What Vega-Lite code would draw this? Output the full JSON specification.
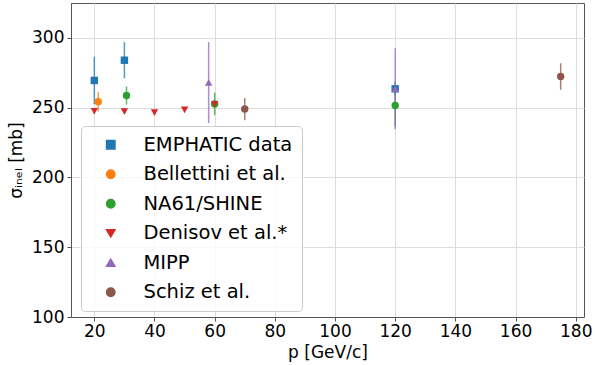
{
  "$schema": "https://vega.github.io/schema/vega-lite/v6.json",
  "width": 513,
  "height": 314,
  "autosize": {"type": "none"},
  "padding": {"left": 71, "top": 3, "right": 11, "bottom": 48},
  "background": "white",
  "config": {
    "font": "DejaVu Sans",
    "view": {"stroke": "#555555", "strokeWidth": 1},
    "axis": {
      "labelFont": "DejaVu Sans",
      "titleFont": "DejaVu Sans",
      "labelFontSize": 17,
      "titleFontSize": 17,
      "titleFontWeight": "normal",
      "labelColor": "#000000",
      "titleColor": "#000000",
      "domainColor": "#555555",
      "tickColor": "#555555",
      "tickSize": 4,
      "gridColor": "#dddddd",
      "gridWidth": 1
    },
    "legend": {
      "orient": "none",
      "legendX": 10,
      "legendY": 123,
      "padding": 9,
      "fillColor": "rgba(255,255,255,0.8)",
      "strokeColor": "#cccccc",
      "cornerRadius": 4,
      "labelFontSize": 19.5,
      "labelFont": "DejaVu Sans",
      "labelColor": "#000000",
      "symbolSize": 70,
      "symbolOffset": 11,
      "labelOffset": 23,
      "rowPadding": 8.5,
      "labelLimit": 300,
      "symbolOpacity": 1
    }
  },
  "data": {
    "values": [
      {"series": "EMPHATIC data", "p": 20, "sigma": 269.5, "err": 17},
      {"series": "EMPHATIC data", "p": 30, "sigma": 284, "err": 13},
      {"series": "EMPHATIC data", "p": 120, "sigma": 263.5, "err": 5},
      {"series": "Bellettini et al.", "p": 21.3, "sigma": 254.3, "err": 7},
      {"series": "NA61/SHINE", "p": 30.7, "sigma": 258.7, "err": 6.5},
      {"series": "NA61/SHINE", "p": 60, "sigma": 252.7, "err": 8},
      {"series": "NA61/SHINE", "p": 120, "sigma": 251.5, "err": 15},
      {"series": "Denisov et al.*", "p": 20, "sigma": 247.5, "err": 2},
      {"series": "Denisov et al.*", "p": 30, "sigma": 247.3, "err": 2},
      {"series": "Denisov et al.*", "p": 40, "sigma": 246.5, "err": 2},
      {"series": "Denisov et al.*", "p": 50, "sigma": 248.5, "err": 2},
      {"series": "Denisov et al.*", "p": 60, "sigma": 252.5, "err": 2},
      {"series": "MIPP", "p": 58, "sigma": 268, "err": 29},
      {"series": "MIPP", "p": 120, "sigma": 263.5, "err": 29},
      {"series": "Schiz et al.", "p": 70, "sigma": 249, "err": 8},
      {"series": "Schiz et al.", "p": 175, "sigma": 272.3, "err": 9.5}
    ]
  },
  "transform": [
    {"calculate": "datum.sigma - datum.err", "as": "lo"},
    {"calculate": "datum.sigma + datum.err", "as": "hi"}
  ],
  "encoding": {
    "x": {
      "field": "p", "type": "quantitative",
      "scale": {"domain": [12.25, 182.75], "nice": false, "zero": false},
      "axis": {"values": [20, 40, 60, 80, 100, 120, 140, 160, 180], "title": "p [GeV/c]", "titlePadding": 5, "labelPadding": 2}
    },
    "color": {
      "field": "series", "type": "nominal",
      "sort": ["EMPHATIC data", "Bellettini et al.", "NA61/SHINE", "Denisov et al.*", "MIPP", "Schiz et al."],
      "scale": {
        "domain": ["EMPHATIC data", "Bellettini et al.", "NA61/SHINE", "Denisov et al.*", "MIPP", "Schiz et al."],
        "range": ["#1f77b4", "#ff7f0e", "#2ca02c", "#d62728", "#9467bd", "#8c564b"]
      },
      "legend": {"title": null}
    }
  },
  "layer": [
    {
      "mark": {"type": "rule", "strokeWidth": 1.5, "opacity": 0.75},
      "encoding": {
        "y": {"field": "lo", "type": "quantitative"},
        "y2": {"field": "hi"}
      }
    },
    {
      "mark": {"type": "point", "filled": true, "opacity": 1, "size": 55},
      "encoding": {
        "y": {
          "field": "sigma", "type": "quantitative",
          "scale": {"domain": [100, 325], "nice": false, "zero": false},
          "axis": {"values": [100, 150, 200, 250, 300], "title": "σᵢₙₑₗ [mb]", "titlePadding": 6, "labelPadding": 3}
        },
        "shape": {
          "field": "series", "type": "nominal",
          "sort": ["EMPHATIC data", "Bellettini et al.", "NA61/SHINE", "Denisov et al.*", "MIPP", "Schiz et al."],
          "scale": {
            "domain": ["EMPHATIC data", "Bellettini et al.", "NA61/SHINE", "Denisov et al.*", "MIPP", "Schiz et al."],
            "range": ["square", "circle", "circle", "triangle-down", "triangle-up", "circle"]
          },
          "legend": {"title": null}
        }
      }
    }
  ]
}
